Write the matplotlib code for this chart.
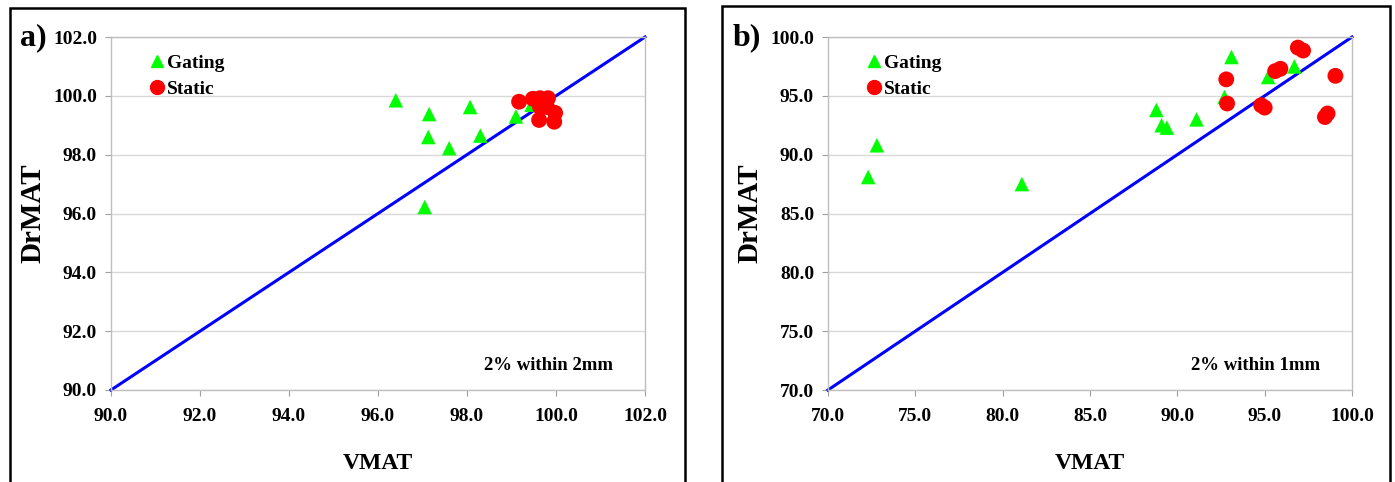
import matplotlib
matplotlib.use("Agg")
import matplotlib.pyplot as plt
from matplotlib.patches import Rectangle
from matplotlib.lines import Line2D

# ---- data: panel a (2% within 2mm) ----
a_gating_x = [96.4, 97.15, 97.13, 98.07, 97.6, 98.3, 97.05, 99.1, 99.45, 99.8]
a_gating_y = [99.85, 99.38, 98.6, 99.62, 98.22, 98.65, 96.22, 99.3, 99.7, 99.75]
a_static_x = [99.17, 99.48, 99.64, 99.82, 99.64, 99.8, 99.98, 99.62, 99.96]
a_static_y = [99.8, 99.9, 99.92, 99.92, 99.62, 99.62, 99.42, 99.18, 99.12]

# ---- data: panel b (2% within 1mm) ----
b_gating_x = [72.3, 72.8, 81.1, 88.8, 89.1, 89.4, 91.1, 92.7, 93.1, 95.2, 96.7]
b_gating_y = [88.1, 90.8, 87.5, 93.8, 92.5, 92.3, 93.0, 94.9, 98.3, 96.6, 97.5]
b_static_x = [92.8, 92.85, 94.8, 95.0, 95.6, 95.9, 96.9, 97.2, 99.05, 98.45, 98.6]
b_static_y = [96.4, 94.35, 94.2, 94.0, 97.1, 97.3, 99.1, 98.85, 96.7, 93.2, 93.5]

a_ticks = [90.0, 92.0, 94.0, 96.0, 98.0, 100.0, 102.0]
b_ticks = [70.0, 75.0, 80.0, 85.0, 90.0, 95.0, 100.0]

plt.rcParams['font.family'] = ['Liberation Serif', 'DejaVu Serif']
plt.rcParams['font.weight'] = 'bold'

W, H = 1395, 482
fig = plt.figure(figsize=(W / 100, H / 100), dpi=100)

# panel frames
fig.patches.append(Rectangle((10 / W, -0.05), (685 - 10) / W, 1.05 - 8 / H,
                             transform=fig.transFigure, fill=False,
                             edgecolor='black', linewidth=1.8))
fig.patches.append(Rectangle((722 / W, -0.05), (1390 - 722) / W, 1.05 - 6 / H,
                             transform=fig.transFigure, fill=False,
                             edgecolor='black', linewidth=1.8))

def make_panel(rect, ticks, gx, gy, sx, sy, letter, note, letter_x):
    ax = fig.add_axes(rect)
    lo, hi = ticks[0], ticks[-1]
    ax.set_xlim(lo, hi)
    ax.set_ylim(lo, hi)
    ax.set_xticks(ticks)
    ax.set_yticks(ticks)
    ax.set_xticklabels([f"{t:.1f}" for t in ticks], fontsize=14, fontweight='bold')
    ax.set_yticklabels([f"{t:.1f}" for t in ticks], fontsize=14, fontweight='bold')
    ax.grid(axis='y', color='#d9d9d9', linewidth=1.0)
    ax.set_axisbelow(True)
    for s in ax.spines.values():
        s.set_color('#bfbfbf')
        s.set_linewidth(1.0)
    ax.tick_params(axis='both', colors='#a0a0a0', length=4, width=0.8,
                   labelcolor='black')
    ax.tick_params(axis='x', pad=9)
    ax.tick_params(axis='y', pad=6)
    ax.plot([lo, hi], [lo, hi], color='#0000ff', linewidth=2.2, zorder=2,
            clip_on=False)
    ax.scatter(gx, gy, marker='^', s=110, color='#00ff00', edgecolors='none',
               zorder=3, clip_on=False)
    ax.scatter(sx, sy, marker='o', s=130, color='#ff0000', edgecolors='none',
               zorder=4, clip_on=False)
    ax.set_xlabel('VMAT', fontsize=17, fontweight='bold', labelpad=20)
    ax.set_ylabel('DrMAT', fontsize=21, fontweight='bold', labelpad=5)
    handles = [Line2D([], [], marker='^', color='#00ff00', linestyle='none',
                      markersize=9),
               Line2D([], [], marker='o', color='#ff0000', linestyle='none',
                      markersize=10)]
    ax.legend(handles, ['Gating', 'Static'], loc='upper left', frameon=False,
              prop={'weight': 'bold', 'size': 14}, handletextpad=0.0,
              handlelength=1.0, labelspacing=0.4,
              bbox_to_anchor=(0.036, 1.0))
    ax.text(0.94, 0.07, note, transform=ax.transAxes, ha='right', va='center',
            fontsize=13.5, fontweight='bold')
    fig.text(letter_x, 1 - 38 / H, letter, fontsize=23, fontweight='bold',
             ha='left', va='center')
    return ax

make_panel([111 / W, 1 - 390 / H, (645 - 111) / W, 353 / H], a_ticks,
           a_gating_x, a_gating_y, a_static_x, a_static_y,
           'a)', '2% within 2mm', 20 / W)
make_panel([828 / W, 1 - 390 / H, (1352 - 828) / W, 353 / H], b_ticks,
           b_gating_x, b_gating_y, b_static_x, b_static_y,
           'b)', '2% within 1mm', 733 / W)

fig.savefig('out.png', dpi=100)
